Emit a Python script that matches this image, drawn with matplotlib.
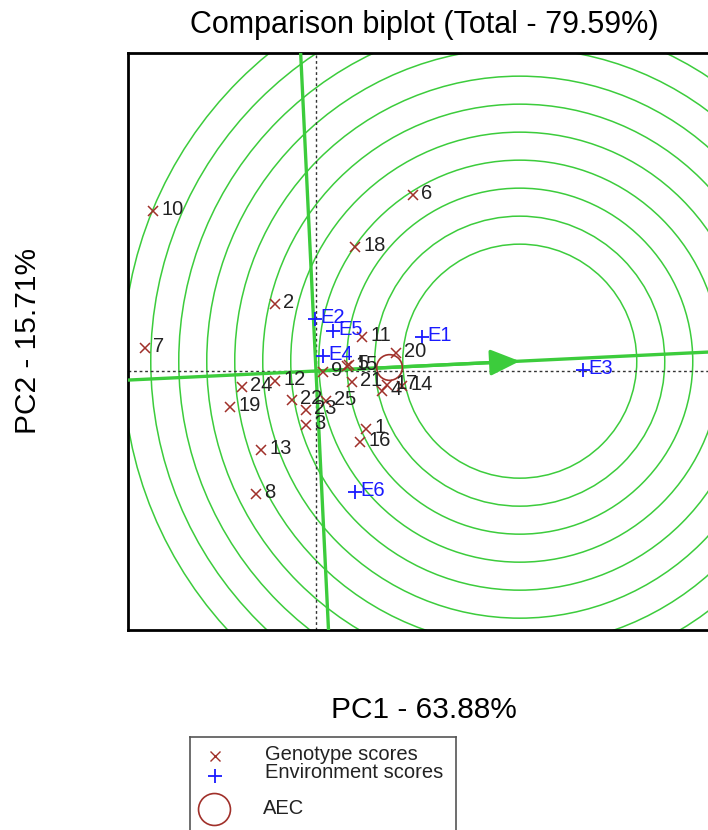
import numpy as np
import matplotlib.pyplot as plt
from matplotlib.patches import Circle

plt.rcParams['font.family'] = ['Liberation Sans', 'DejaVu Sans']

# genotype scores (PC1, PC2)
geno_labels = [str(i) for i in range(1, 26)]
geno_pc1 = [1.00, -0.82, -0.20, 1.32, 0.66, 1.94, -3.42, -1.20, 0.14, -3.26,
            0.92, -0.82, -1.10, 1.72, 0.62, 0.88, 1.42, 0.78, -1.72, 1.60,
            0.72, -0.48, -0.20, -1.48, 0.20]
geno_pc2 = [-1.16, 1.34, -1.08, -0.40, 0.12, 3.52, 0.46, -2.46, -0.02, 3.20,
            0.68, -0.20, -1.58, -0.30, 0.10, -1.42, -0.28, 2.48, -0.72, 0.36,
            -0.22, -0.58, -0.78, -0.32, -0.60]

# environment scores
env_labels = ["E1", "E2", "E3", "E4", "E5", "E6"]
env_pc1 = [2.12, -0.02, 5.34, 0.14, 0.34, 0.78]
env_pc2 = [0.68, 1.04, 0.02, 0.30, 0.80, -2.42]

# ideal point along the AEC and concentric ring radii
ideal_dist = 4.08
ring_radii = [2.34 + 0.56 * k for k in range(11)]

title = "Comparison biplot (Total - 79.59%)"
xlab = "PC1 - 63.88%"
ylab = "PC2 - 15.71%"

green = "#3ccc3c"
red = "#a0302a"
blue = "#1a1aff"

W, H = 708, 830
fig = plt.figure(figsize=(W / 100, H / 100), dpi=100)
ax = fig.add_axes([128 / W, 1 - 630 / H, 592 / W, 577 / H])
ax.set_xlim(-3.76, 8.08)
ax.set_ylim(-5.18, 6.36)
ax.set_aspect("equal")
ax.set_xticks([])
ax.set_yticks([])
for s in ax.spines.values():
    s.set_linewidth(2.0)
    s.set_color("black")

# average environment coordinate and ideal point
aec = np.array([np.mean(env_pc1), np.mean(env_pc2)])
u = aec / np.linalg.norm(aec)
ideal = u * ideal_dist

for r in ring_radii:
    ax.add_patch(Circle(ideal, r, fill=False, color=green, lw=1.1, zorder=1))

ax.axhline(0, color="#333333", lw=1.0, ls=(0, (2, 2)), zorder=2)
ax.axvline(0, color="#333333", lw=1.0, ls=(0, (2, 2)), zorder=2)

ax.axline((0, 0), (u[0], u[1]), color=green, lw=2.4, zorder=3)
ax.axline((0, 0), (-u[1], u[0]), color=green, lw=2.4, zorder=3)
ax.annotate("", xy=ideal, xytext=(0, 0),
            arrowprops=dict(arrowstyle="-|>,head_length=1.8,head_width=0.8",
                            color=green, lw=2.4, shrinkA=0, shrinkB=0), zorder=3)

# AEC circle
ax.plot(aec[0], aec[1], "o", ms=18.5, mfc="none", mec=red, mew=1.2, zorder=4)

ax.plot(geno_pc1, geno_pc2, "x", color=red, ms=7.5, mew=1.1, zorder=5)
for lab, x, y in zip(geno_labels, geno_pc1, geno_pc2):
    ax.annotate(lab, (x, y), xytext=(6, 1), textcoords="offset points",
                va="center", ha="left", fontsize=14.5, color="#222222", zorder=6)

ax.plot(env_pc1, env_pc2, "+", color=blue, ms=9.5, mew=1.3, zorder=5)
for lab, x, y in zip(env_labels, env_pc1, env_pc2):
    ax.annotate(lab, (x, y), xytext=(4, 1), textcoords="offset points",
                va="center", ha="left", fontsize=14.5, color=blue, zorder=6)

fig.text(424 / W, 1 - 25 / H, title, ha="center", va="center", fontsize=22)
fig.text(424 / W, 1 - 710 / H, xlab, ha="center", va="center", fontsize=21.5)
fig.text(28 / W, 1 - 341 / H, ylab, ha="center", va="center", fontsize=21.5,
         rotation=90)

# legend box
lg = fig.add_axes([190 / W, 1 - 860 / H, 266 / W, 123 / H])
lg.set_xlim(0, 266)
lg.set_ylim(860, 737)
lg.set_xticks([])
lg.set_yticks([])
for s in lg.spines.values():
    s.set_linewidth(1.2)
    s.set_color("#555555")
lg.plot(25, 756, "x", color=red, ms=6.5, mew=1.0)
lg.plot(25, 776, "+", color=blue, ms=10, mew=1.3)
lg.plot(24, 809, "o", ms=23, mfc="none", mec=red, mew=1.2)
lg.text(75, 754, "Genotype scores", va="center", fontsize=14.5, color="#222222")
lg.text(75, 773, "Environment scores", va="center", fontsize=14.5, color="#222222")
lg.text(73, 808, "AEC", va="center", fontsize=14.5, color="#222222")

fig.savefig("out.png", dpi=100)
